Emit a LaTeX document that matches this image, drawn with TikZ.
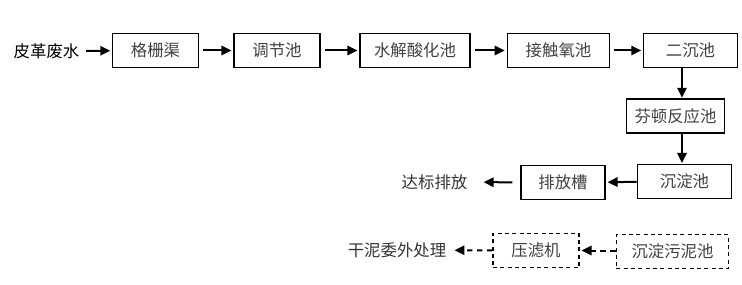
\documentclass[tikz,border=0pt]{standalone}
\usepackage{fontspec}
\setmainfont{Noto Sans CJK SC}
\usepackage{xcolor}
\usepackage{tikz}
\usetikzlibrary{arrows.meta, positioning}

\begin{document}
\begin{tikzpicture}[x=0.75pt, y=-0.75pt,
  font=\fontsize{12.3pt}{14pt}\selectfont,
  unit/.style={draw, line width=0.8pt, minimum height=26pt, inner sep=0pt, text=black!75},
  sludgebox/.style={unit, dashed, dash pattern=on 3pt off 2.5pt},
  flow/.style={line width=1.5pt, -{Triangle[length=7.5pt, width=7pt]}, shorten <=3pt, shorten >=1.5pt},
  sludgeflow/.style={flow, dash pattern=on 4pt off 3.5pt}]
  \useasboundingbox (0,0) rectangle (742,285);

  % Main line
  \node[inner sep=2pt, text=black] (source) at (46.5,51) {皮革废水};
  \node[unit, minimum width=64pt] (grille) at (155.5,50.5) {格栅渠};
  \node[unit, minimum width=64.5pt] (adjust) at (277,50.5) {调节池};
  \node[unit, minimum width=82.5pt] (hydro) at (415,50.5) {水解酸化池};
  \node[unit, minimum width=77pt] (contact) at (558.5,50.5) {接触氧池};
  \node[unit, minimum width=70pt] (settleA) at (690.5,50.5) {二沉池};

  \draw[flow] (source) -- (grille);
  \draw[flow] (grille) -- (adjust);
  \draw[flow] (adjust) -- (hydro);
  \draw[flow] (hydro) -- (contact);
  \draw[flow] (contact) -- (settleA);

  % Fenton and settling
  \coordinate (vline) at (682,0);
  \node[unit, minimum width=74pt, minimum height=25.5pt] (fenton) at (675.5,116) {芬顿反应池};
  \node[unit, minimum width=71pt] (settleB) at (684.5,181.5) {沉淀池};
  \draw[flow, shorten <=0pt, shorten >=0.5pt] (settleA.south -| vline) -- (fenton.north -| vline);
  \draw[flow, shorten <=0pt, shorten >=0.5pt] (fenton.south -| vline) -- (settleB.north -| vline);

  % Discharge
  \node[unit, minimum width=63pt, minimum height=25pt] (drain) at (563,182.5) {排放槽};
  \node[inner sep=2pt, text=black!80] (outlet) at (434.5,182) {达标排放};
  \draw[flow, shorten <=0pt] (settleB) -- (drain);
  \draw[flow, shorten <=6pt, shorten >=10pt] (drain) -- (outlet);

  % Sludge line
  \node[sludgebox, minimum width=84.5pt, minimum height=25pt] (sludge) at (672.5,251.5) {沉淀污泥池};
  \node[sludgebox, minimum width=64.5pt] (press) at (536,250.5) {压滤机};
  \node[inner sep=2pt, text=black!80] (dispose) at (397,250) {干泥委外处理};
  \draw[sludgeflow, shorten <=0pt] (sludge.west |- press) -- (press);
  \draw[sludgeflow, shorten <=0pt, shorten >=4pt] (press) -- (dispose);
\end{tikzpicture}
\end{document}
